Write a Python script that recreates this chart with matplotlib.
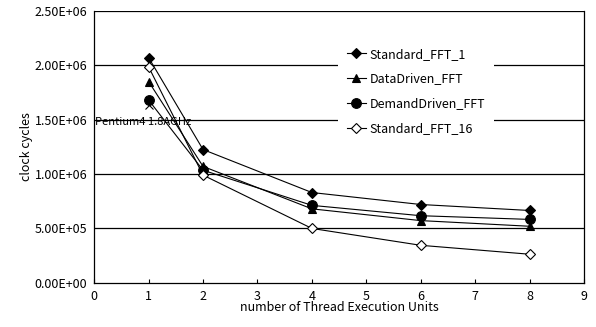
import numpy as np
import matplotlib.pyplot as plt
from matplotlib.ticker import FuncFormatter

plt.rcParams["font.family"] = ["Noto Sans CJK JP", "DejaVu Sans"]

units = [1, 2, 4, 6, 8]
standard_fft_1 = [2.07e6, 1.225e6, 0.83e6, 0.72e6, 0.665e6]
datadriven_fft = [1.85e6, 1.07e6, 0.68e6, 0.572e6, 0.52e6]
demanddriven_fft = [1.68e6, 1.035e6, 0.712e6, 0.617e6, 0.583e6]
standard_fft_16 = [1.985e6, 0.99e6, 0.50e6, 0.345e6, 0.263e6]
pentium4_x = [1]
pentium4_y = [1.63e6]

series = [
    ("Standard_FFT_1", standard_fft_1, "D", "black", 5),
    ("DataDriven_FFT", datadriven_fft, "^", "black", 6),
    ("DemandDriven_FFT", demanddriven_fft, "o", "black", 7),
    ("Standard_FFT_16", standard_fft_16, "D", "white", 5),
]

fig = plt.figure(figsize=(5.96, 3.27), dpi=100)
ax = fig.add_axes([0.158, 0.135, 0.822, 0.832])

for val in np.arange(0.5e6, 2.51e6, 0.5e6):
    ax.axhline(val, color="black", lw=0.9, zorder=0)

for name, vals, mk, fc, ms in series:
    ax.plot(units, vals, color="black", lw=0.8, marker=mk, ms=ms,
            mfc=fc, mec="black", mew=0.8, label=name, zorder=3)

ax.plot(pentium4_x, pentium4_y, ls="none", marker="x", ms=6,
        color="black", mew=0.8, zorder=2)
ax.text(0.02, 1.52e6, "Pentium4 1.8AGHz", fontsize=8, va="top",
        ha="left", zorder=4)

ax.set_xlim(0, 9)
ax.set_ylim(0, 2.5e6)
ax.set_xticks(range(10))
ax.set_yticks(np.arange(0, 2.51e6, 0.5e6))
ax.yaxis.set_major_formatter(FuncFormatter(lambda v, p: f"{v:.2E}"))
ax.tick_params(axis="x", direction="in", length=3, width=0.8,
               labelsize=9, pad=5)
ax.tick_params(axis="y", length=0, labelsize=9, pad=5)
for s in ["left", "bottom", "right"]:
    ax.spines[s].set_linewidth(0.9)
ax.spines["top"].set_visible(False)

ax.set_xlabel("number of Thread Execution Units", fontsize=9, labelpad=-1)
ax.set_ylabel("clock cycles", fontsize=9, labelpad=1)

leg = ax.legend(loc="upper left", bbox_to_anchor=(0.485, 0.92), fontsize=9,
                frameon=True, framealpha=1, edgecolor="white",
                handlelength=1.5, handletextpad=0.3, labelspacing=0.95,
                borderpad=0.7)
leg.get_frame().set_linewidth(0)

fig.savefig("out.png", dpi=100)
